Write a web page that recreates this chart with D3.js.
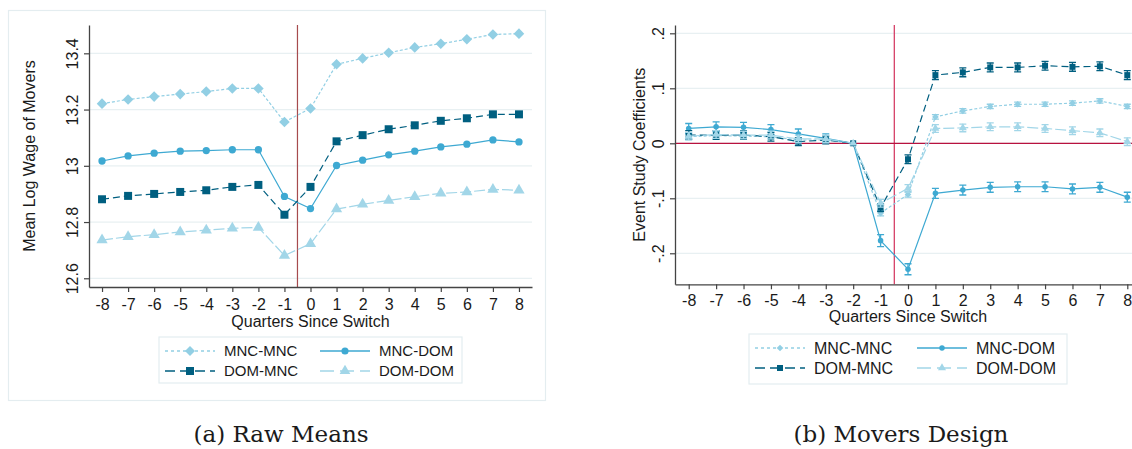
<!DOCTYPE html>
<html>
<head>
<meta charset="utf-8">
<script src="https://cdn.jsdelivr.net/npm/d3@7/dist/d3.min.js"></script>
<style>
  body { margin: 0; background: #fff; }
  svg { display: block; font-family: "Liberation Sans", Arial, sans-serif; }
</style>
</head>
<body>
<div id="grafico"></div>
<script>
// ---- datos ----
const trimestres = [-8, -7, -6, -5, -4, -3, -2, -1, 0, 1, 2, 3, 4, 5, 6, 7, 8];
const series = ["MNC-MNC", "MNC-DOM", "DOM-MNC", "DOM-DOM"];

// (a) medias crudas
const mediaMncMnc = [13.221, 13.236, 13.246, 13.255, 13.264, 13.275, 13.275, 13.156, 13.204, 13.361, 13.382, 13.402, 13.421, 13.434, 13.450, 13.467, 13.470];
const mediaMncDom = [13.017, 13.035, 13.045, 13.052, 13.054, 13.057, 13.057, 12.891, 12.848, 13.001, 13.020, 13.039, 13.052, 13.067, 13.077, 13.092, 13.085];
const mediaDomMnc = [12.881, 12.893, 12.900, 12.907, 12.913, 12.925, 12.932, 12.826, 12.925, 13.087, 13.109, 13.130, 13.144, 13.160, 13.169, 13.183, 13.183];
const mediaDomDom = [12.736, 12.748, 12.755, 12.765, 12.771, 12.778, 12.781, 12.681, 12.723, 12.846, 12.863, 12.877, 12.890, 12.902, 12.907, 12.916, 12.913];
const ticksMedia = [12.6, 12.8, 13, 13.2, 13.4];

// (b) coeficientes del estudio de eventos
const coefMncMnc = [0.012, 0.014, 0.013, 0.012, 0.006, 0.006, 0, -0.127, -0.093, 0.048, 0.059, 0.067, 0.071, 0.071, 0.073, 0.077, 0.067];
const coefMncDom = [0.027, 0.030, 0.029, 0.025, 0.017, 0.009, 0, -0.177, -0.229, -0.091, -0.085, -0.080, -0.079, -0.079, -0.083, -0.080, -0.098];
const coefDomMnc = [0.015, 0.015, 0.015, 0.012, 0.003, 0.006, 0, -0.117, -0.029, 0.124, 0.129, 0.138, 0.138, 0.141, 0.139, 0.140, 0.124];
const coefDomDom = [0.013, 0.016, 0.015, 0.015, 0.008, 0.008, 0, -0.109, -0.082, 0.027, 0.028, 0.030, 0.030, 0.027, 0.023, 0.019, 0.003];
// media amplitud del intervalo de confianza
const icMncMnc = [0.004, 0.004, 0.004, 0.004, 0.004, 0.004, 0, 0.005, 0.005, 0.004, 0.004, 0.004, 0.004, 0.004, 0.004, 0.004, 0.004];
const icMncDom = [0.009, 0.009, 0.009, 0.009, 0.009, 0.008, 0, 0.011, 0.010, 0.009, 0.009, 0.009, 0.009, 0.009, 0.009, 0.009, 0.009];
const icDomMnc = [0.008, 0.008, 0.008, 0.008, 0.007, 0.007, 0, 0.007, 0.008, 0.008, 0.008, 0.008, 0.008, 0.008, 0.008, 0.008, 0.008];
const icDomDom = [0.007, 0.007, 0.007, 0.007, 0.007, 0.007, 0, 0.007, 0.007, 0.007, 0.007, 0.007, 0.007, 0.007, 0.007, 0.007, 0.007];
const ticksCoef = [-0.2, -0.1, 0, 0.1, 0.2];
const etiquetasCoef = ["-.2", "-.1", "0", ".1", ".2"];

// ---- estilos ----
const estilos = {
    "MNC-MNC": { color: "#92cfe4", dash: "3,2", legDash: "3,3", forma: "rombo" },
    "MNC-DOM": { color: "#3ea9d2", dash: null, legDash: null, forma: "circulo" },
    "DOM-MNC": { color: "#005f80", dash: "7,4", legDash: "10,5", forma: "cuadrado" },
    "DOM-DOM": { color: "#a2d6e8", dash: "11,3", legDash: "14,6", forma: "triangulo" }
};
const simbolos = {
    rombo: d3.symbolSquare, circulo: d3.symbolCircle,
    cuadrado: d3.symbolSquare, triangulo: d3.symbolTriangle
};

const svg = d3.select("#grafico").append("svg")
    .attr("width", 1132)
    .attr("height", 449);

const dibujarMarca = (g, forma, cx, cy, area, color) => {
    g.append("path")
        .attr("d", d3.symbol().type(simbolos[forma]).size(area)())
        .attr("transform", `translate(${cx},${cy})` + (forma === "rombo" ? " rotate(45)" : ""))
        .attr("fill", color);
};

const panel = cfg => {
    const x = d3.scaleLinear().domain([-8.5, 8.5]).range([cfg.izq, cfg.der]);
    const y = d3.scaleLinear().domain(cfg.dominioY).range([cfg.abajo, cfg.arriba]);
    const g = svg.append("g");

    // cuadrícula
    g.selectAll(".rejilla").data(cfg.ticksY).join("line")
        .attr("x1", cfg.izq).attr("x2", cfg.der)
        .attr("y1", d => y(d)).attr("y2", d => y(d))
        .attr("stroke", "#e8f0f2").attr("stroke-width", 1.2);

    // líneas de referencia
    g.append("line")
        .attr("x1", x(-0.5)).attr("x2", x(-0.5))
        .attr("y1", cfg.arriba).attr("y2", cfg.abajo)
        .attr("stroke", cfg.colorRef).attr("stroke-width", 1.2);
    if (cfg.lineaCero) {
        g.append("line")
            .attr("x1", cfg.izq).attr("x2", cfg.der)
            .attr("y1", y(0)).attr("y2", y(0))
            .attr("stroke", "#b8123f").attr("stroke-width", 1.2);
    }

    // series
    cfg.datos.forEach((valores, i) => {
        const est = estilos[series[i]];
        const puntos = trimestres.map((q, j) => ({ q, v: valores[j], ic: cfg.ic ? cfg.ic[i][j] : 0 }));
        const gs = g.append("g");
        gs.append("path")
            .attr("d", d3.line().x(d => x(d.q)).y(d => y(d.v))(puntos))
            .attr("fill", "none")
            .attr("stroke", est.color)
            .attr("stroke-width", 1.2)
            .attr("stroke-dasharray", est.dash);
        if (cfg.ic) {
            puntos.filter(d => d.ic > 0).forEach(d => {
                const cx = x(d.q), y0 = y(d.v - d.ic), y1 = y(d.v + d.ic);
                gs.append("path")
                    .attr("d", `M${cx},${y0}V${y1}M${cx - 3.5},${y0}H${cx + 3.5}M${cx - 3.5},${y1}H${cx + 3.5}`)
                    .attr("fill", "none")
                    .attr("stroke", est.color)
                    .attr("stroke-width", 1.3);
            });
        }
        puntos.forEach(d => dibujarMarca(gs, est.forma, x(d.q), y(d.v), cfg.tamMarca[est.forma], est.color));
    });

    // ejes (guion normal en negativos, como el original)
    const ejeY = g.append("g")
        .attr("transform", `translate(${cfg.izq},0)`)
        .call(d3.axisLeft(y).tickValues(cfg.ticksY).tickFormat(cfg.formatoY).tickSize(5).tickSizeOuter(0));
    ejeY.selectAll("text")
        .attr("x", null).attr("dy", null)
        .attr("transform", "translate(-11,0) rotate(-90)")
        .attr("text-anchor", "middle")
        .attr("font-size", cfg.fuente)
        .attr("fill", "#1a1a1a");

    const ejeX = g.append("g")
        .attr("transform", `translate(0,${cfg.abajo})`)
        .call(d3.axisBottom(x).tickValues(trimestres).tickFormat(d => String(d))
            .tickSize(5).tickSizeOuter(0).tickPadding(cfg.relleno));
    ejeX.selectAll("text")
        .attr("font-size", cfg.fuente)
        .attr("fill", "#1a1a1a");

    [ejeX, ejeY].forEach(e => {
        e.attr("font-family", null);
        e.select(".domain").attr("stroke", "#444").attr("stroke-width", 1.3);
        e.selectAll(".tick line").attr("stroke", "#444").attr("stroke-width", 1.2);
    });

    // títulos
    g.append("text")
        .attr("x", (cfg.izq + cfg.der) / 2).attr("y", cfg.yTituloX)
        .attr("text-anchor", "middle").attr("font-size", 16).attr("fill", "#1a1a1a")
        .text("Quarters Since Switch");
    g.append("text")
        .attr("transform", `translate(${cfg.xTituloY},${(cfg.arriba + cfg.abajo) / 2}) rotate(-90)`)
        .attr("text-anchor", "middle").attr("font-size", 16).attr("fill", "#1a1a1a")
        .text(cfg.tituloY);

    // leyenda
    const L = cfg.leyenda;
    g.append("rect")
        .attr("x", L.x).attr("y", L.y).attr("width", L.ancho).attr("height", L.alto)
        .attr("fill", "#fff").attr("stroke", "#e3edf0").attr("stroke-width", 1.2);
    series.forEach((s, i) => {
        const est = estilos[s];
        const col = i % 2, fila = Math.floor(i / 2);
        const lx = L.x + 6 + col * L.paso, ly = L.y + L.fila0 + fila * L.filaPaso;
        g.append("line")
            .attr("x1", lx).attr("x2", lx + 50).attr("y1", ly).attr("y2", ly)
            .attr("stroke", est.color).attr("stroke-width", 1.3)
            .attr("stroke-dasharray", est.legDash);
        dibujarMarca(g, est.forma, lx + 25, ly, L.tamMarca[est.forma], est.color);
        g.append("text")
            .attr("x", lx + 59).attr("y", ly + L.fuente * 0.36)
            .attr("font-size", L.fuente).attr("fill", "#1a1a1a")
            .text(s);
    });

    g.append("text")
        .attr("x", cfg.xPie).attr("y", 442)
        .attr("text-anchor", "middle")
        .attr("font-family", "'DejaVu Serif', 'Liberation Serif', serif")
        .attr("font-size", 23).attr("fill", "#1a1a1a")
        .text(cfg.pie);
};

// marco del panel (a)
svg.append("rect")
    .attr("x", 8.5).attr("y", 10.5).attr("width", 537).attr("height", 390)
    .attr("fill", "none").attr("stroke", "#e4edf0").attr("stroke-width", 1.2);

panel({
    izq: 89, der: 532, arriba: 25, abajo: 287,
    dominioY: [12.569, 13.5007],
    ticksY: ticksMedia,
    formatoY: d => String(d),
    datos: [mediaMncMnc, mediaMncDom, mediaDomMnc, mediaDomDom],
    tamMarca: { rombo: 56, circulo: 42, cuadrado: 64, triangulo: 55 },
    colorRef: "#a64b4e",
    fuente: 16, relleno: 7,
    yTituloX: 327, xTituloY: 35,
    tituloY: "Mean Log Wage of Movers",
    leyenda: { x: 159, y: 337, ancho: 303, alto: 46, paso: 155, fila0: 14, filaPaso: 20, fuente: 15,
        tamMarca: { rombo: 50, circulo: 40, cuadrado: 64, triangulo: 50 } },
    xPie: 281, pie: "(a) Raw Means"
});

panel({
    izq: 675, der: 1141, arriba: 25, abajo: 284.3,
    dominioY: [-0.2564, 0.2151],
    ticksY: ticksCoef,
    formatoY: (d, i) => etiquetasCoef[i],
    datos: [coefMncMnc, coefMncDom, coefDomMnc, coefDomDom],
    ic: [icMncMnc, icMncDom, icDomMnc, icDomDom],
    tamMarca: { rombo: 22, circulo: 24, cuadrado: 36, triangulo: 28 },
    colorRef: "#d3305a",
    lineaCero: true,
    fuente: 16, relleno: 5,
    yTituloX: 322, xTituloY: 645,
    tituloY: "Event Study Coefficients",
    leyenda: { x: 749, y: 334, ancho: 318, alto: 50, paso: 162, fila0: 14, filaPaso: 20, fuente: 16,
        tamMarca: { rombo: 22, circulo: 24, cuadrado: 36, triangulo: 28 } },
    xPie: 901, pie: "(b) Movers Design"
});
</script>
</body>
</html>
